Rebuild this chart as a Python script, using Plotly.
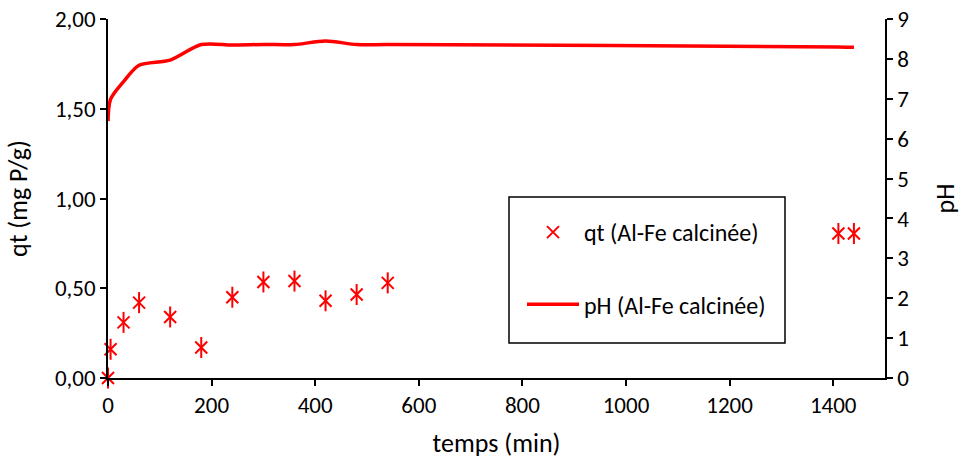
import plotly.graph_objects as go

# Data
temps = [0, 5, 30, 60, 120, 180, 240, 300, 360, 420, 480, 540, 1410, 1440]
qt = [0.00, 0.16, 0.31, 0.42, 0.34, 0.17, 0.45, 0.535, 0.54, 0.43, 0.465, 0.53, 0.805, 0.805]
ph = [6.44, 6.99, 7.43, 7.84, 7.97, 8.36, 8.35, 8.36, 8.36, 8.45, 8.36, 8.36, 8.30, 8.29]

x_ticks = [0, 200, 400, 600, 800, 1000, 1200, 1400]
qt_ticks = [0, 0.5, 1.0, 1.5, 2.0]
ph_ticks = list(range(0, 10))

FONT = "Carlito, Calibri, Lato, sans-serif"
RED = "#ff0000"

fig = go.Figure()
fig.add_trace(go.Scatter(
    x=temps, y=qt, mode="markers", name="qt (Al-Fe calcinée)", cliponaxis=False,
    marker=dict(symbol="x-thin-open", size=12, color=RED, line=dict(color=RED, width=2)),
    legendgroup="a", yaxis="y",
))
fig.add_trace(go.Scatter(
    x=temps, y=qt, mode="markers", name="qt", cliponaxis=False, showlegend=False,
    marker=dict(symbol="line-ns-open", size=15, color=RED, line=dict(color=RED, width=2)),
    legendgroup="a", yaxis="y", hoverinfo="skip",
))
fig.add_trace(go.Scatter(
    x=temps, y=ph, mode="lines", name="pH (Al-Fe calcinée)",
    line=dict(color=RED, width=3.5, shape="spline", smoothing=0.8),
    legendgroup="b", yaxis="y2",
))

axis_common = dict(showline=True, linecolor="black", linewidth=1.5, ticks="outside",
                   ticklen=6, tickcolor="black", tickwidth=1.5, showgrid=False, zeroline=False,
                   automargin=False,
                   tickfont=dict(family=FONT, size=23, color="black"))
TITLE_FONT = dict(family=FONT, size=26, color="black")

W, H = 961, 466
L, R, T, B = 108, 76, 19, 88
PW, PH = W - L - R, H - T - B

def px_x(x):  # screen x -> paper
    return (x - L) / PW

def px_y(y):  # screen y -> paper
    return (H - B - y) / PH

fig.update_layout(
    width=W, height=H,
    margin=dict(l=L, r=R, t=T, b=B),
    paper_bgcolor="white", plot_bgcolor="white",
    separators=", ",
    font=dict(family=FONT, color="black"),
    xaxis=dict(range=[0, 1500], tickvals=x_ticks, title=dict(text="temps (min)", font=TITLE_FONT), **axis_common),
    yaxis=dict(range=[0, 2.0], tickvals=qt_ticks, tickformat=".2f",
               title=dict(text="qt (mg P/g)", font=TITLE_FONT, standoff=20), **axis_common),
    yaxis2=dict(range=[0, 9], tickvals=ph_ticks, overlaying="y", side="right", anchor="x",
                title=dict(text="pH", font=TITLE_FONT, standoff=40), **axis_common),
    showlegend=True,
    legend=dict(x=px_x(522), y=px_y(210), xanchor="left", yanchor="top",
                traceorder="grouped", tracegroupgap=38, bgcolor="rgba(0,0,0,0)", borderwidth=0,
                itemwidth=52, font=dict(family=FONT, size=24, color="black")),
    shapes=[dict(type="rect", xref="paper", yref="paper",
                 x0=px_x(509), x1=px_x(785), y0=px_y(343), y1=px_y(197),
                 line=dict(color="black", width=1.5), fillcolor="rgba(0,0,0,0)")],
)

fig.write_html("out.html", config={"displayModeBar": False},
               post_script="document.body.style.margin='0';document.body.style.overflow='hidden';")
